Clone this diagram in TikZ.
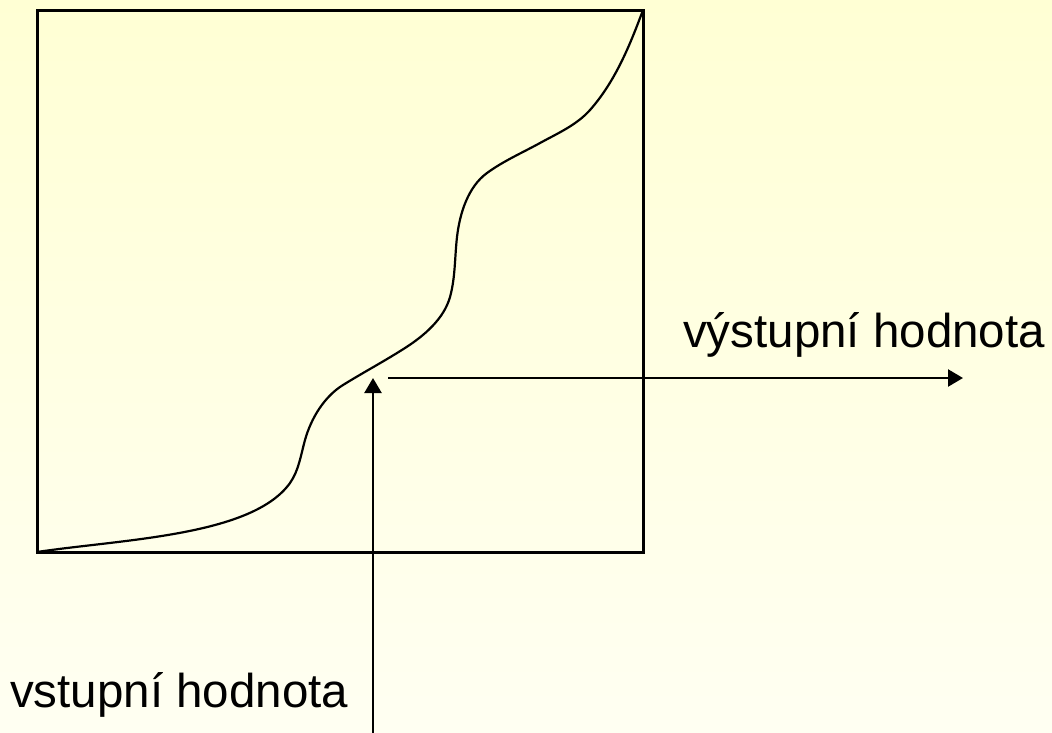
\documentclass[tikz,border=0pt]{standalone}
\usepackage{fontspec}
\setmainfont{Liberation Sans}
\usetikzlibrary{arrows.meta}
\definecolor{bgtop}{RGB}{255,255,212}
\definecolor{bgbot}{RGB}{255,255,242}
\tikzset{
  frame/.style={draw=black, line width=3pt},
  curve/.style={draw=black, line width=2.2pt},
  arrowline/.style={draw=black, line width=2.4pt, -{Triangle[length=15pt,width=17pt]}},
  label/.style={font=\fontsize{47.5}{57}\selectfont, inner sep=0pt, anchor=base west}
}
\begin{document}
\begin{tikzpicture}[x=1pt,y=-1pt]
\shade[top color=bgtop, bottom color=bgbot] (0,0) rectangle (1052,732);
\useasboundingbox (0,0) rectangle (1052,732);
\draw[frame] (37,10) rectangle (643,552);
\draw[curve] (37,552)
  .. controls (123.4,539.1) and (252,536) .. (290,483)
  .. controls (298.8,470.6) and (300.9,454.6) .. (305,440)
  .. controls (311,418.5) and (324.1,396.7) .. (343,385)
  .. controls (363.5,372.3) and (384.7,361) .. (405,348)
  .. controls (424.1,335.8) and (443.9,318.9) .. (450,297)
  .. controls (455.4,277.6) and (454.7,257) .. (457,237)
  .. controls (459.7,213.6) and (467.9,186.9) .. (487,173)
  .. controls (503.4,161) and (522.2,152.8) .. (540,143)
  .. controls (557.5,133.4) and (576.7,125) .. (590,110)
  .. controls (615,81.8) and (629.9,45.4) .. (643,10);
\node[label] (out) at (683,347) {výstupní hodnota};
\node[label] (in) at (10,707) {vstupní hodnota};
\coordinate (vin) at (373,733);
\coordinate (vtip) at (373,378);
\coordinate (hstart) at (388,378);
\coordinate (htip) at (963,378);
\draw[arrowline] (vin) -- (vtip);
\draw[arrowline] (hstart) -- (htip);
\end{tikzpicture}
\end{document}
